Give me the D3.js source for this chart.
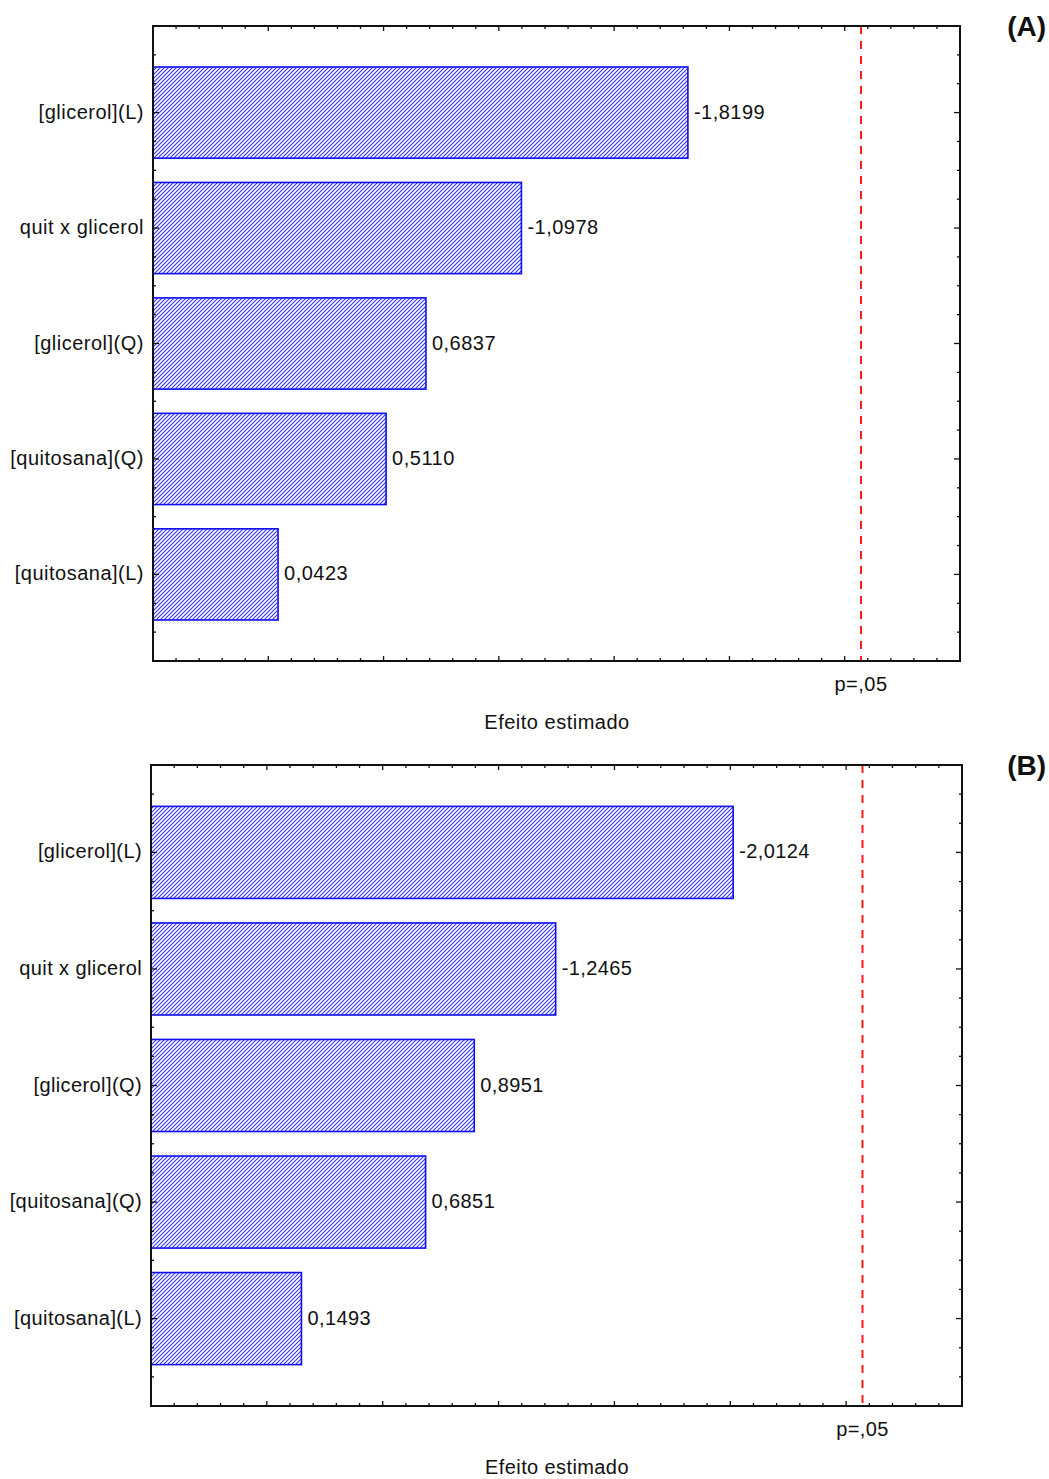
<!DOCTYPE html>
<html><head><meta charset="utf-8">
<script src="https://cdn.jsdelivr.net/npm/d3@7"></script>
<style>
body{margin:0;background:#fff;}
text{font-family:"Liberation Sans",Arial,sans-serif;fill:#111;}
</style></head>
<body>
<svg id="chart" width="1049" height="1479"></svg>
<script>
const categories = ["[glicerol](L)", "quit x glicerol", "[glicerol](Q)", "[quitosana](Q)", "[quitosana](L)"];
const valuesA = [-1.8199, -1.0978, 0.6837, 0.5110, 0.0423];
const valuesB = [-2.0124, -1.2465, 0.8951, 0.6851, 0.1493];
const pCritical = 2.5706;
const pLabel = "p=,05";
const xTitle = "Efeito estimado";
const panelLabels = ["(A)", "(B)"];
const xDomain = [-0.5, 3.0];

const svg = d3.select("#chart");
const defs = svg.append("defs");
function hatch(id, spacing, sw) {
  const p = defs.append("pattern").attr("id", id).attr("patternUnits", "userSpaceOnUse")
    .attr("width", spacing).attr("height", spacing);
  p.append("rect").attr("width", spacing).attr("height", spacing).attr("fill", "#fff");
  const s = spacing;
  p.append("path").attr("d", `M${-s/2},${s/2} L${s/2},${-s/2} M0,${s} L${s},0 M${s/2},${s*1.5} L${s*1.5},${s/2}`)
    .attr("stroke", "#3535ff").attr("stroke-width", sw);
}
hatch("hA", 4, 1.15);
hatch("hB", 4, 1.1);

const fmt = v => (v < 0 ? "-" : "") + Math.abs(v).toFixed(4).replace(".", ",");

function panel(cfg) {
  const g = svg.append("g");
  const x = d3.scaleLinear().domain(xDomain).range([cfg.x0, cfg.x1]);
  const y = d3.scaleLinear().domain([0.25, 5.75]).range([cfg.y0, cfg.y1]);
  const half = 0.395;
  const fs = 20, ls = cfg.ls;

  g.selectAll("rect.bar").data(cfg.values).join("rect")
    .attr("x", x(xDomain[0]))
    .attr("y", (d, i) => y(i + 1 - half))
    .attr("width", d => x(Math.abs(d)) - x(xDomain[0]))
    .attr("height", y(1 + half) - y(1 - half))
    .attr("fill", `url(#${cfg.pat})`)
    .attr("stroke", "#1010f0").attr("stroke-width", 1.6);

  g.selectAll("text.val").data(cfg.values).join("text")
    .attr("x", d => x(Math.abs(d)) + 6)
    .attr("y", (d, i) => y(i + 1) + 6)
    .attr("font-size", fs).attr("letter-spacing", ls)
    .text(d => fmt(d));

  g.selectAll("text.cat").data(categories).join("text")
    .attr("x", cfg.x0 - 9)
    .attr("y", (d, i) => y(i + 1) + 6)
    .attr("text-anchor", "end")
    .attr("font-size", fs).attr("letter-spacing", ls)
    .text(d => d);

  g.append("line")
    .attr("x1", x(pCritical)).attr("x2", x(pCritical))
    .attr("y1", cfg.y0).attr("y2", cfg.y1)
    .attr("stroke", "#ff1a1a").attr("stroke-width", 2)
    .attr("stroke-dasharray", "8,7");

  const tk = g.append("g").attr("stroke", "#111").attr("stroke-width", 1.3);
  const xt = d3.range(-5, 31).map(k => k / 10);
  xt.forEach(v => {
    const major = Math.abs(v * 2 - Math.round(v * 2)) < 1e-6;
    const L = major ? 5 : 3;
    tk.append("line").attr("x1", x(v)).attr("x2", x(v)).attr("y1", cfg.y1).attr("y2", cfg.y1 - L);
    tk.append("line").attr("x1", x(v)).attr("x2", x(v)).attr("y1", cfg.y0).attr("y2", cfg.y0 + L);
  });
  const yt = d3.range(1, 23).map(k => k / 4 + 0.25);
  yt.forEach(v => {
    const major = Math.abs(v - Math.round(v)) < 1e-6;
    const L = major ? 6 : 3;
    tk.append("line").attr("x1", cfg.x0).attr("x2", cfg.x0 + L).attr("y1", y(v)).attr("y2", y(v));
    tk.append("line").attr("x1", cfg.x1).attr("x2", cfg.x1 - L).attr("y1", y(v)).attr("y2", y(v));
  });

  g.append("rect").attr("x", cfg.x0).attr("y", cfg.y0)
    .attr("width", cfg.x1 - cfg.x0).attr("height", cfg.y1 - cfg.y0)
    .attr("fill", "none").attr("stroke", "#111").attr("stroke-width", 2);

  g.append("text").attr("x", x(pCritical)).attr("y", cfg.y1 + 30)
    .attr("text-anchor", "middle").attr("font-size", fs).attr("letter-spacing", ls).text(pLabel);
  g.append("text").attr("x", (cfg.x0 + cfg.x1) / 2 + 0.5).attr("y", cfg.y1 + 68)
    .attr("text-anchor", "middle").attr("font-size", fs).attr("letter-spacing", ls).text(xTitle);
  g.append("text").attr("x", 1046).attr("y", cfg.y0 + 10)
    .attr("text-anchor", "end").attr("font-size", 28).attr("font-weight", "bold").text(cfg.label);
}

panel({x0: 153, x1: 960, y0: 26, y1: 661, values: valuesA, pat: "hA", label: panelLabels[0], ls: 0.5});
panel({x0: 151, x1: 962, y0: 765, y1: 1406, values: valuesB, pat: "hB", label: panelLabels[1], ls: 0.4});
</script>
</body></html>
